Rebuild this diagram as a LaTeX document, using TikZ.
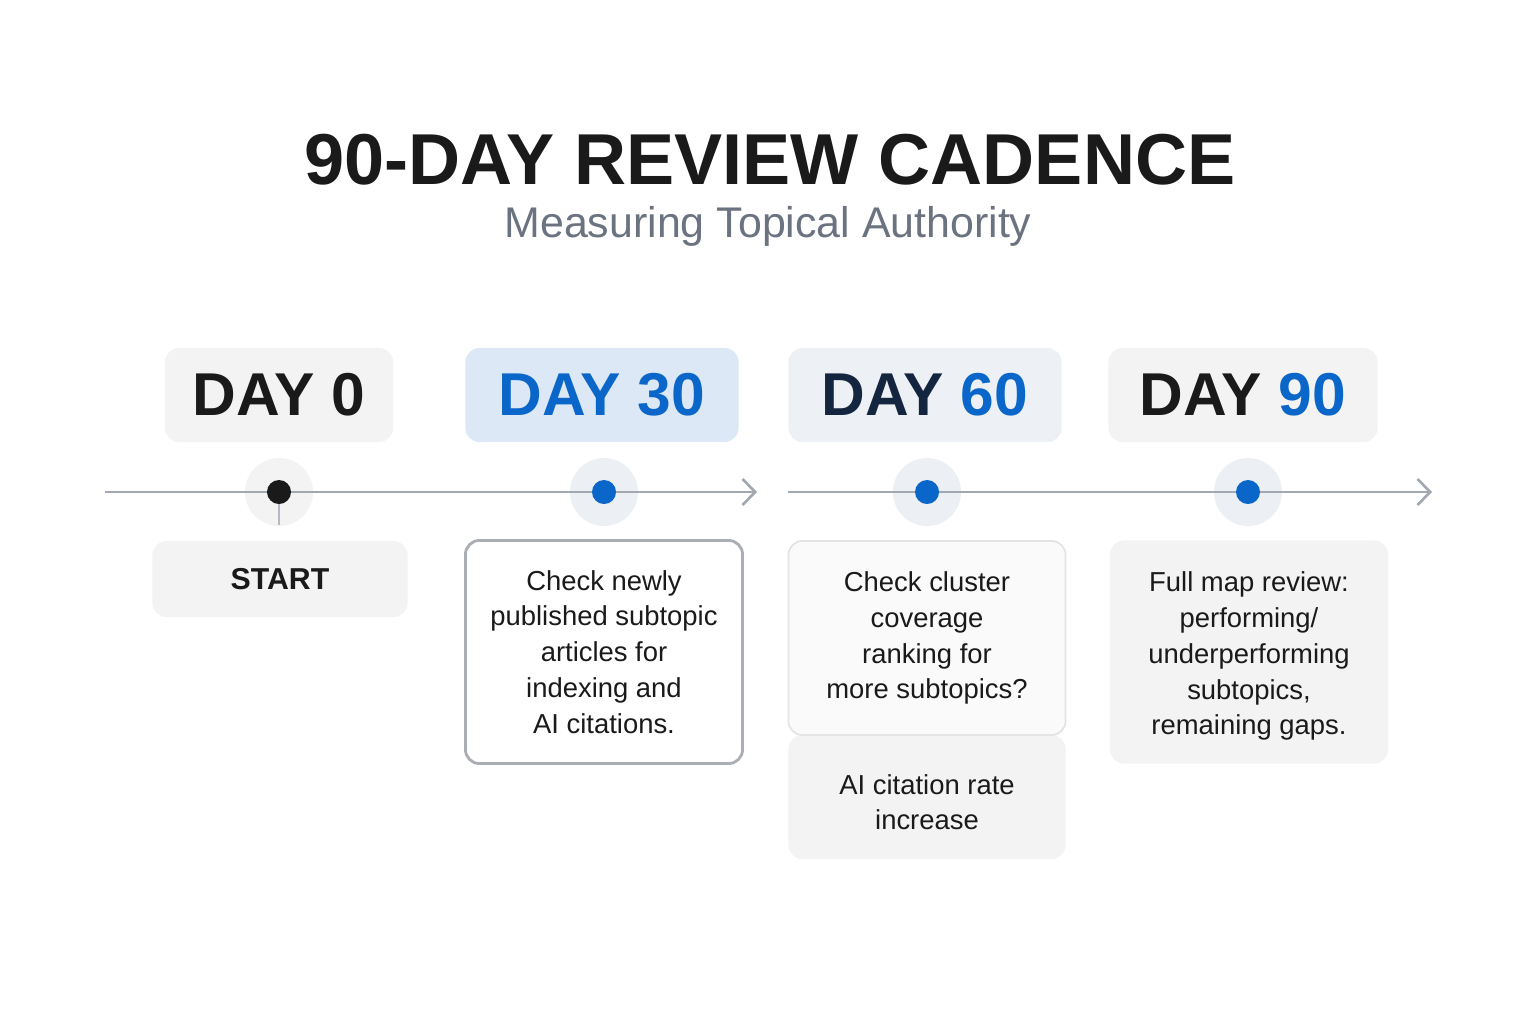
\documentclass[tikz,border=0pt]{standalone}
\usepackage{fontspec}
\setmainfont{Liberation Sans}
\usepackage{xcolor}
\usetikzlibrary{positioning,arrows.meta}

\definecolor{inkdark}{HTML}{1A1A1A}
\definecolor{inknavy}{HTML}{14263F}
\definecolor{subgray}{HTML}{6B7280}
\definecolor{accent}{HTML}{0A66C8}
\definecolor{boxgray}{HTML}{F3F3F3}
\definecolor{boxblue}{HTML}{DCE8F5}
\definecolor{boxslate}{HTML}{EDF0F4}
\definecolor{halogray}{HTML}{ECEFF3}
\definecolor{linegray}{HTML}{A3A8B0}
\definecolor{cardline}{HTML}{ABAFB5}
\definecolor{softline}{HTML}{E4E4E6}

\begin{document}
\begin{tikzpicture}[x=0.01cm, y=-0.01cm,
  daybox/.style={rectangle, rounded corners=4pt, minimum height=0.94cm,
                 font=\fontsize{17.2pt}{20pt}\selectfont\bfseries, text=inkdark},
  card/.style={rectangle, rounded corners=4pt, minimum width=2.77cm, align=center,
               font=\fontsize{7.8pt}{10.2pt}\selectfont, text=inkdark},
  halo/.style={circle, fill=halogray, minimum size=0.68cm, inner sep=0pt},
  dot/.style={circle, fill=accent, minimum size=0.24cm, inner sep=0pt},
  tl/.style={draw=linegray, line width=0.75pt, -{Straight Barb[length=3.6pt,width=7.4pt]}}
]
\fill[white] (0,0) rectangle (1536,1024);

% heading
\node[font=\bfseries\fontsize{20.5pt}{24pt}\selectfont, text=inkdark,
      text depth=0pt, inner sep=0pt] (title) at (770,159) {90-DAY REVIEW CADENCE};
\node[font=\fontsize{12.2pt}{14pt}\selectfont, text=subgray, inner sep=0pt] (subtitle) at (768,226) {Measuring Topical Authority};

% day labels
\node[daybox, fill=boxgray, minimum width=2.28cm] (day0) at (279,395) {DAY 0};
\node[daybox, fill=boxblue, minimum width=2.73cm, text=accent] (day30) at (602,395) {DAY 30};
\node[daybox, fill=boxslate, minimum width=2.73cm] (day60) at (925,395) {\textcolor{inknavy}{DAY} \textcolor{accent}{60}};
\node[daybox, fill=boxgray, minimum width=2.69cm] (day90) at (1243,395) {DAY \textcolor{accent}{90}};

% timeline
\node[halo, fill=boxgray] (h0) at (279,492) {};
\node[halo] (h30) at (604,492) {};
\node[halo] (h60) at (927,492) {};
\node[halo] (h90) at (1248,492) {};

\coordinate (tlA) at (105,492);
\coordinate (tlB) at (757,492);
\coordinate (tlC) at (788,492);
\coordinate (tlD) at (1432,492);
\draw[tl] (tlA) -- (tlB);
\draw[tl] (tlC) -- (tlD);

\coordinate (tick0) at (279,525);
\draw[draw=linegray!80, line width=0.75pt] (279,492) -- (tick0);

\node[dot, fill=inkdark] (d0) at (279,492) {};
\node[dot] (d30) at (604,492) {};
\node[dot] (d60) at (927,492) {};
\node[dot] (d90) at (1248,492) {};

% cards
\node[card, fill=boxgray, minimum width=2.55cm, minimum height=0.76cm,
      font=\fontsize{8.6pt}{10pt}\selectfont\bfseries] (start) at (280,579) {START};
\node[card, fill=white, draw=cardline, line width=0.8pt, minimum height=2.23cm] (card30) at (604,652)
  {Check newly\\published subtopic\\articles for\\indexing and\\AI citations.};
\node[card, fill=boxgray, minimum height=1.24cm] (card60b) at (927,797)
  {\rule{0pt}{8.6pt}AI citation rate\\increase};
\node[card, fill=black!2, draw=softline, line width=0.5pt, minimum height=1.94cm] (card60a) at (927,638)
  {Check cluster\\coverage\\ranking for\\more subtopics?};
\node[card, fill=boxgray, minimum width=2.78cm, minimum height=2.23cm] (card90) at (1249,652)
  {\rule{0pt}{8pt}Full map review:\\performing/\\underperforming\\subtopics,\\remaining gaps.};

\end{tikzpicture}
\end{document}
